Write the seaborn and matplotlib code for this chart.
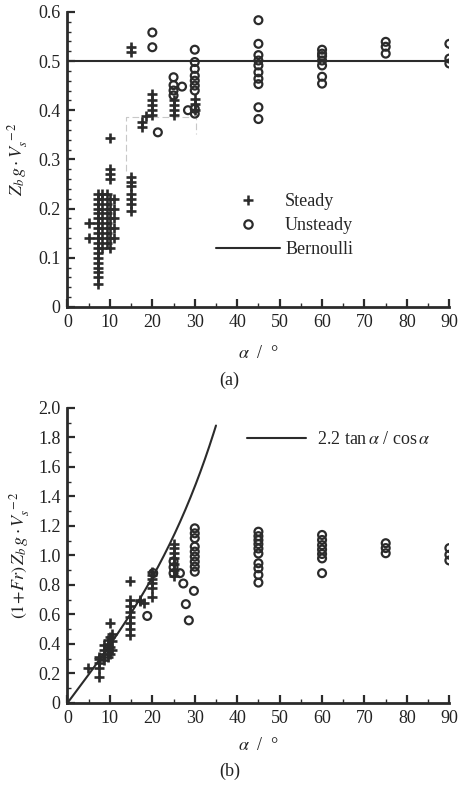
import numpy as np
import pandas as pd
import matplotlib
matplotlib.use("Agg")
import matplotlib.pyplot as plt
import seaborn as sns
from matplotlib.lines import Line2D
from matplotlib.ticker import MultipleLocator, FixedLocator, FixedFormatter

# ---------------- data ----------------
# Panel (a): Z_b g V_s^-2 vs alpha
a_steady_x = [5, 5] + [7.2]*19 + [8.2]*7 + [9.2]*6 + [10]*10 + [10.9]*5 + [15]*9 + [17.6, 17.6, 18.5] + [20]*5 + [25]*4 + [30]*3
a_steady_y = ([0.17, 0.14]
              + [0.047, 0.06, 0.07, 0.08, 0.09, 0.10, 0.11, 0.12, 0.13, 0.14, 0.15, 0.16, 0.17, 0.18, 0.19, 0.20, 0.21, 0.22, 0.23]
              + [0.12, 0.14, 0.16, 0.18, 0.20, 0.22, 0.23]
              + [0.13, 0.15, 0.17, 0.19, 0.21, 0.23]
              + [0.12, 0.14, 0.16, 0.18, 0.20, 0.22, 0.26, 0.27, 0.28, 0.343]
              + [0.14, 0.16, 0.18, 0.20, 0.22]
              + [0.195, 0.21, 0.22, 0.23, 0.245, 0.255, 0.265, 0.518, 0.528]
              + [0.365, 0.376, 0.389]
              + [0.39, 0.40, 0.41, 0.42, 0.433]
              + [0.39, 0.40, 0.41, 0.42]
              + [0.40, 0.413, 0.423])
a_unsteady_x = [20, 20, 21.3] + [25]*4 + [27, 28.4] + [30]*9 + [45]*10 + [60]*7 + [75]*3 + [90]*3
a_unsteady_y = ([0.528, 0.558, 0.355]
                + [0.43, 0.44, 0.451, 0.467]
                + [0.448, 0.40]
                + [0.393, 0.403, 0.44, 0.45, 0.46, 0.47, 0.484, 0.498, 0.523]
                + [0.382, 0.406, 0.453, 0.464, 0.477, 0.491, 0.501, 0.512, 0.535, 0.583]
                + [0.454, 0.468, 0.491, 0.501, 0.51, 0.515, 0.523]
                + [0.515, 0.529, 0.539]
                + [0.495, 0.505, 0.535])
bernoulli_y = 0.5

# Panel (b): (1+Fr) Z_b g V_s^-2 vs alpha
b_steady_x = [4.8] + [7.4]*5 + [8.5]*4 + [9.5]*4 + [10]*4 + [10.6]*3 + [14.8]*8 + [17, 17, 18] + [20]*6 + [25]*7
b_steady_y = ([0.235]
              + [0.174, 0.24, 0.27, 0.30, 0.31]
              + [0.29, 0.33, 0.36, 0.39]
              + [0.31, 0.35, 0.40, 0.43]
              + [0.54, 0.33, 0.38, 0.45]
              + [0.36, 0.42, 0.47]
              + [0.46, 0.50, 0.54, 0.58, 0.62, 0.66, 0.70, 0.83]
              + [0.69, 0.70, 0.68]
              + [0.72, 0.78, 0.81, 0.84, 0.87, 0.89]
              + [0.86, 0.90, 0.94, 0.98, 1.02, 1.05, 1.08])
b_unsteady_x = [18.8, 20.2] + [25]*3 + [26.5, 27.3, 27.9, 28.6, 29.8] + [30]*9 + [45]*10 + [60]*7 + [75]*3 + [90]*3
b_unsteady_y = ([0.59, 0.88]
                + [0.88, 0.92, 0.96]
                + [0.88, 0.81, 0.67, 0.56, 0.76]
                + [0.89, 0.924, 0.958, 0.992, 1.026, 1.06, 1.117, 1.15, 1.184]
                + [0.816, 0.868, 0.913, 0.947, 1.013, 1.047, 1.077, 1.104, 1.131, 1.161]
                + [0.88, 0.98, 1.01, 1.04, 1.07, 1.105, 1.139]
                + [1.015, 1.05, 1.083]
                + [0.966, 1.005, 1.05])
curve_alpha_deg = np.linspace(0, 35, 200)
curve_coef = 2.2

x_ticks = [0, 10, 20, 30, 40, 50, 60, 70, 80, 90]
a_yticks = [0, 0.1, 0.2, 0.3, 0.4, 0.5, 0.6]
a_yticklabels = ["0", "0.1", "0.2", "0.3", "0.4", "0.5", "0.6"]
b_yticks = [0, 0.2, 0.4, 0.6, 0.8, 1.0, 1.2, 1.4, 1.6, 1.8, 2.0]
b_yticklabels = ["0", "0.2", "0.4", "0.6", "0.8", "1.0", "1.2", "1.4", "1.6", "1.8", "2.0"]

# ---------------- style ----------------
sns.set_style("ticks")
plt.rcParams["font.family"] = ["Liberation Serif", "DejaVu Serif"]
plt.rcParams["mathtext.fontset"] = "stix"
FS = 13
INK = "#2b2b2b"

fig = plt.figure(figsize=(4.59, 7.89), dpi=100)
ax1 = fig.add_axes([0.147, 0.611, 0.832, 0.374])
ax2 = fig.add_axes([0.147, 0.109, 0.832, 0.374])

df_as = pd.DataFrame({"alpha": a_steady_x, "val": a_steady_y})
df_au = pd.DataFrame({"alpha": a_unsteady_x, "val": a_unsteady_y})
df_bs = pd.DataFrame({"alpha": b_steady_x, "val": b_steady_y})
df_bu = pd.DataFrame({"alpha": b_unsteady_x, "val": b_unsteady_y})
a = np.deg2rad(curve_alpha_deg)
df_curve = pd.DataFrame({"alpha": curve_alpha_deg, "val": curve_coef * np.tan(a) / np.cos(a)})

def draw_points(ax, ds, du):
    sns.scatterplot(data=ds, x="alpha", y="val", ax=ax, marker="+", s=42,
                    color=INK, linewidth=1.9, zorder=3)
    sns.scatterplot(data=du, x="alpha", y="val", ax=ax, marker="o", s=32,
                    facecolor="none", edgecolor=INK, linewidth=1.6, zorder=3)

draw_points(ax1, df_as, df_au)
ax1.axhline(bernoulli_y, color=INK, lw=1.5, zorder=2)
# faint dashed guide seen in panel (a)
ax1.plot([13.9, 13.9, 30.2, 30.2], [0.277, 0.386, 0.386, 0.352], color="#c8c8c8",
         lw=0.8, ls=(0, (6, 3)), zorder=1)

draw_points(ax2, df_bs, df_bu)
sns.lineplot(data=df_curve, x="alpha", y="val", ax=ax2, color=INK, lw=1.5, zorder=2)

for ax, yt, ytl, ylim, ymin, lp in [(ax1, a_yticks, a_yticklabels, (0, 0.6), 0.02, 10),
                                     (ax2, b_yticks, b_yticklabels, (0, 2.0), 0.1, 7)]:
    ax.set_xlim(0, 90)
    ax.set_ylim(*ylim)
    ax.xaxis.set_major_locator(FixedLocator(x_ticks))
    ax.xaxis.set_minor_locator(MultipleLocator(5))
    ax.yaxis.set_major_locator(FixedLocator(yt))
    ax.yaxis.set_major_formatter(FixedFormatter(ytl))
    ax.yaxis.set_minor_locator(MultipleLocator(ymin))
    for s in ["top", "right"]:
        ax.spines[s].set_visible(False)
    for s in ["left", "bottom"]:
        ax.spines[s].set_linewidth(2.0)
        ax.spines[s].set_color(INK)
    ax.tick_params(which="major", direction="in", length=6, width=1.6, color=INK,
                   labelsize=FS, pad=5, labelcolor="#222222")
    ax.tick_params(which="minor", direction="in", length=3, width=1.0, color=INK)
    ax.set_xlabel(r"$\alpha$  /  °", fontsize=FS, labelpad=lp, color="#222222")

ax1.set_ylabel(r"$Z_b\,g\cdot V_s^{\,-2}$", fontsize=FS, labelpad=6, color="#222222")
ax2.set_ylabel(r"$(1\!+\!Fr)\,Z_b\,g\cdot V_s^{\,-2}$", fontsize=FS, labelpad=4, color="#222222")

h1 = [Line2D([], [], ls="none", marker="+", ms=7, mew=1.8, color=INK),
      Line2D([], [], ls="none", marker="o", ms=6, mew=1.6, mfc="none", mec=INK),
      Line2D([], [], color=INK, lw=1.5)]
leg1 = ax1.legend(h1, ["Steady", "Unsteady", "Bernoulli"], loc="upper left",
                  bbox_to_anchor=(0.39, 0.386), frameon=False, fontsize=FS,
                  handlelength=3.5, handletextpad=0.3, labelspacing=0.4,
                  borderpad=0, borderaxespad=0)

h2 = [Line2D([], [], color=INK, lw=1.5)]
ax2.legend(h2, [r"2.2 tan$\,\alpha$ / cos$\,\alpha$"], loc="center left",
           bbox_to_anchor=(0.469, 0.892), frameon=False, fontsize=FS,
           handlelength=3.3, handletextpad=0.6, borderpad=0, borderaxespad=0)

fig.text(0.50, 1 - 380 / 789, "(a)", ha="center", va="center", fontsize=FS, color="#222222")
fig.text(0.50, 1 - 771 / 789, "(b)", ha="center", va="center", fontsize=FS, color="#222222")

fig.savefig("out.png", dpi=100, facecolor="white")
